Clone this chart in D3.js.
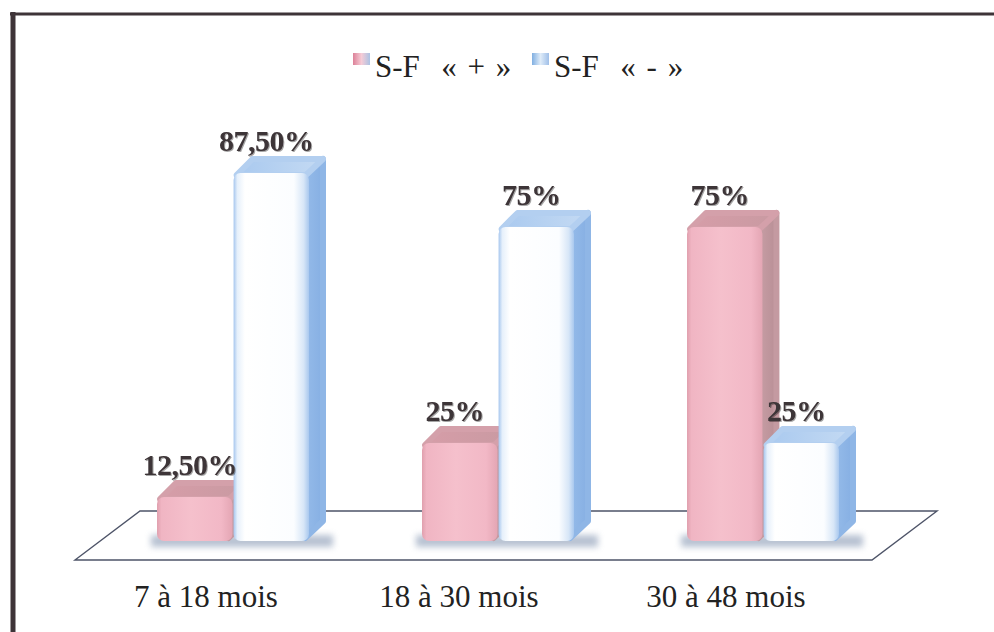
<!DOCTYPE html>
<html>
<head>
<meta charset="utf-8">
<script src="https://cdn.jsdelivr.net/npm/d3@7"></script>
<style>
  html, body { margin: 0; padding: 0; background: #ffffff; }
  svg { display: block; }
  text { white-space: pre; }
</style>
</head>
<body>
<svg id="chart" width="994" height="632"></svg>
<script>
// ---- data ----
const categories = ["7 à 18 mois", "18 à 30 mois", "30 à 48 mois"];
const seriesNames = ["S-F  « + »", "S-F  « - »"];
const seriesPlus = [12.5, 25, 75];
const seriesMinus = [87.5, 75, 25];
const labelsPlus = ["12,50%", "25%", "75%"];
const labelsMinus = ["87,50%", "75%", "25%"];

// ---- layout ----
const W = 994, H = 632;
const FONT = "'Liberation Serif', 'Times New Roman', serif";
const svg = d3.select("#chart");
const defs = svg.append("defs");

const x = d3.scaleBand().domain(categories).range([157, 839]).paddingInner(0.4264).paddingOuter(0);
const xs = d3.scaleBand().domain(["plus", "minus"]).range([0, x.bandwidth()]).paddingInner(0.015);
const y = d3.scaleLinear().domain([0, 100]).range([551, 119]);
const baseY = 541;
const dx = 17, dy = 17;

// gradients
function lin(id, stops, vertical) {
  const g = defs.append("linearGradient").attr("id", id)
    .attr("x1", 0).attr("y1", 0).attr("x2", vertical ? 0 : 1).attr("y2", vertical ? 1 : 0);
  stops.forEach(s => g.append("stop").attr("offset", s[0]).attr("stop-color", s[1]));
}
lin("pinkFront", [[0, "#e0a0ae"], [0.06, "#f0b5c3"], [0.45, "#f5c0cc"], [0.85, "#f2b8c6"], [1, "#e4a6b4"]]);
lin("pinkTop", [[0, "#d69da8"], [1, "#c99aa2"]]);
lin("pinkSide", [[0, "#c89ea5"], [1, "#b88f96"]]);
lin("blueFront", [[0, "#a6c6ee"], [0.05, "#e6f0fb"], [0.15, "#ffffff"], [0.8, "#fbfdff"], [0.93, "#d7e6f7"], [1, "#a9c8ee"]]);
lin("blueTop", [[0, "#a9c9ef"], [1, "#c4daf3"]]);
lin("blueSide", [[0, "#95bbe9"], [1, "#86afe3"]]);
lin("legPink", [[0, "#d66b86"], [0.5, "#f4c3cf"], [1, "#9db7de"]]);
lin("legBlue", [[0, "#6aa1dc"], [0.5, "#d9e8f7"], [1, "#8fb4e4"]]);

const blur = defs.append("filter").attr("id", "blur").attr("x", "-20%").attr("y", "-100%").attr("width", "140%").attr("height", "300%");
blur.append("feGaussianBlur").attr("stdDeviation", 3);
const tshadow = defs.append("filter").attr("id", "tshadow");
tshadow.append("feDropShadow").attr("dx", 1).attr("dy", 1).attr("stdDeviation", 0.6).attr("flood-color", "#000").attr("flood-opacity", 0.35);

// ---- frame ----
svg.append("line").attr("x1", 13).attr("y1", 12).attr("x2", 13).attr("y2", H).attr("stroke", "#3e3438").attr("stroke-width", 5);
svg.append("line").attr("x1", 10).attr("y1", 14).attr("x2", W).attr("y2", 14).attr("stroke", "#3e3438").attr("stroke-width", 3);

// ---- floor ----
svg.append("polygon")
  .attr("points", [[75, 560], [140, 511], [937, 511], [872, 560]].map(p => p.join(",")).join(" "))
  .attr("fill", "#ffffff").attr("stroke", "#4e5468").attr("stroke-width", 1.4);

// ---- legend ----
const legendX = [353, 532];
const legend = svg.append("g");
seriesNames.forEach((name, i) => {
  legend.append("rect").attr("x", legendX[i]).attr("y", 53).attr("width", 17).attr("height", 12)
    .attr("fill", i === 0 ? "url(#legPink)" : "url(#legBlue)").attr("opacity", 0.85);
  legend.append("text").attr("x", legendX[i] + 22).attr("y", 77)
    .attr("font-family", FONT).attr("font-size", 31).attr("word-spacing", 3)
    .attr("fill", "#222").text(name);
});

// ---- bars ----
const series = [
  { key: "plus", values: seriesPlus, labels: labelsPlus, front: "url(#pinkFront)", top: "url(#pinkTop)", side: "url(#pinkSide)", topC: "#d4a0aa", sideC: "#c49aa1" },
  { key: "minus", values: seriesMinus, labels: labelsMinus, front: "url(#blueFront)", top: "url(#blueTop)", side: "url(#blueSide)", topC: "#b3cff0", sideC: "#8fb6e6" }
];

// shadows on floor
categories.forEach((c, i) => {
  const x0 = x(c);
  svg.append("rect").attr("x", x0 - 6).attr("y", baseY - 6).attr("width", x.bandwidth() + 30).attr("height", 12)
    .attr("fill", "#9aa8bf").attr("opacity", 0.7).attr("filter", "url(#blur)");
});

const gBars = svg.append("g");
categories.forEach((c, i) => {
  series.forEach(s => {
    const v = s.values[i];
    const x0 = x(c) + xs(s.key);
    const w = xs.bandwidth();
    const x1 = x0 + w;
    const yt = y(v);
    const g = gBars.append("g");
    // side face
    g.append("polygon")
      .attr("points", [[x1 - 4, yt + 3], [x1 + dx - 3, yt - dy + 3], [x1 + dx - 3, baseY - dy - 3], [x1 - 4, baseY - 3]].map(p => p.join(",")).join(" "))
      .attr("fill", s.side).attr("stroke", s.sideC).attr("stroke-width", 6).attr("stroke-linejoin", "round");
    // top face
    g.append("polygon")
      .attr("points", [[x0 + 3, yt + 2], [x0 + dx + 2, yt - dy + 3], [x1 + dx - 3, yt - dy + 3], [x1 - 3, yt + 2]].map(p => p.join(",")).join(" "))
      .attr("fill", s.top).attr("stroke", s.topC).attr("stroke-width", 6).attr("stroke-linejoin", "round");
    // front face
    g.append("rect").attr("x", x0).attr("y", yt).attr("width", w).attr("height", baseY - yt)
      .attr("rx", 7).attr("ry", 7).attr("fill", s.front);
    // label
    svg.append("text").attr("x", x0 + w / 2 - 5).attr("y", yt - dy - 5)
      .attr("text-anchor", "middle")
      .attr("font-family", FONT).attr("font-weight", "bold")
      .attr("font-size", 30).attr("fill", "#3d3437").attr("letter-spacing", -0.5)
      .attr("filter", "url(#tshadow)")
      .text(s.labels[i]);
  });
});

// ---- category labels ----
const catOffset = [-27, -39, -37];
categories.forEach((c, i) => {
  svg.append("text").attr("x", x(c) + x.bandwidth() / 2 + catOffset[i]).attr("y", 607)
    .attr("text-anchor", "middle")
    .attr("font-family", FONT).attr("font-size", 31)
    .attr("fill", "#222").text(c);
});
</script>
</body>
</html>
